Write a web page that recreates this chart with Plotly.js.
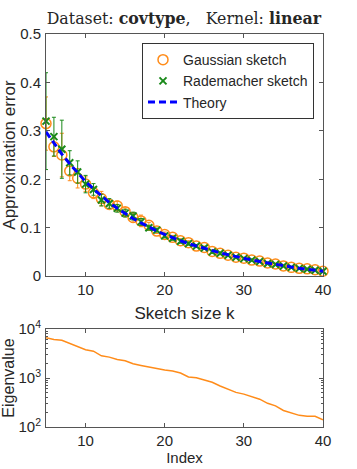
<!DOCTYPE html>
<html>
<head>
<meta charset="utf-8">
<script src="https://cdn.plot.ly/plotly-3.0.1.min.js"></script>
<style>html,body{margin:0;padding:0;background:#fff}#chart{width:357px;height:469px}</style>
</head>
<body>
<div id="chart"></div>
<script>
const sketchSizes = [5,6,7,8,9,10,11,12,13,14,15,16,17,18,19,20,21,22,23,24,25,26,27,28,29,30,31,32,33,34,35,36,37,38,39,40];
const gaussianErr = [0.315,0.267,0.250,0.217,0.202,0.190,0.172,0.160,0.148,0.145,0.133,0.121,0.114,0.105,0.093,0.086,0.080,0.073,0.069,0.062,0.059,0.051,0.047,0.043,0.039,0.037,0.033,0.031,0.027,0.025,0.021,0.018,0.016,0.015,0.013,0.010];
const gaussianStd = [0.055,0.020,0.045,0.020,0.020,0.015,0.012,0.015,0.010,0.010,0.008,0.010,0.012,0.006,0.005,0.005,0.004,0.004,0.004,0.003,0.003,0.003,0.003,0.002,0.002,0.002,0.002,0.002,0.002,0.002,0.002,0.001,0.001,0.001,0.001,0.001];
const rademacherErr = [0.320,0.288,0.262,0.234,0.215,0.190,0.179,0.157,0.150,0.140,0.130,0.124,0.112,0.100,0.095,0.083,0.078,0.072,0.067,0.062,0.058,0.050,0.047,0.043,0.039,0.036,0.033,0.030,0.026,0.024,0.021,0.018,0.016,0.014,0.012,0.010];
const rademacherStd = [0.100,0.040,0.060,0.025,0.023,0.018,0.012,0.012,0.010,0.008,0.008,0.008,0.007,0.005,0.004,0.004,0.004,0.004,0.003,0.003,0.003,0.003,0.002,0.002,0.002,0.002,0.002,0.002,0.002,0.002,0.001,0.001,0.001,0.001,0.001,0.001];
const theoryErr = [0.298,0.275,0.252,0.232,0.213,0.195,0.180,0.165,0.152,0.140,0.129,0.119,0.110,0.101,0.093,0.086,0.079,0.073,0.067,0.062,0.057,0.052,0.048,0.044,0.040,0.036,0.033,0.030,0.027,0.024,0.021,0.019,0.016,0.014,0.012,0.010];
const eigIndex = [5,6,7,8,9,10,11,12,13,14,15,16,17,18,19,20,21,22,23,24,25,26,27,28,29,30,31,32,33,34,35,36,37,38,39,40];
const eigValues = [6650,6150,5900,5100,4300,3780,3550,2850,2680,2400,2250,1960,1810,1670,1580,1460,1390,1270,1050,1015,910,820,690,590,510,470,415,370,305,270,218,196,173,166,166,140];
const xTicks = [10,20,30,40];
const yTicksTop = [0,0.1,0.2,0.3,0.4,0.5];
const yTickLabelsTop = ['0','0.1','0.2','0.3','0.4','0.5'];
const yTicksBottom = [100,1000,10000];
const yTickLabelsBottom = ['10<sup>2</sup>','10<sup>3</sup>','10<sup>4</sup>'];

const orange = '#ff8c1a', green = '#1a8a1a', blue = '#0000ff';
const axisCol = '#555';
const txt = '#262626';
const sans = 'Liberation Sans, Arial, sans-serif';

const traces = [
  {x: sketchSizes, y: gaussianErr, name: 'Gaussian sketch', type: 'scatter', mode: 'markers',
   marker: {symbol: 'circle-open', size: 10, color: orange, line: {width: 1.5, color: orange}},
   error_y: {type: 'data', array: gaussianStd, visible: true, color: orange, thickness: 1, width: 2},
   cliponaxis: false, xaxis: 'x', yaxis: 'y'},
  {x: sketchSizes, y: rademacherErr, name: 'Rademacher sketch', type: 'scatter', mode: 'markers',
   marker: {symbol: 'x-thin-open', size: 7, color: green, line: {width: 2, color: green}},
   error_y: {type: 'data', array: rademacherStd, visible: true, color: green, thickness: 1, width: 2},
   cliponaxis: false, xaxis: 'x', yaxis: 'y'},
  {x: sketchSizes, y: theoryErr, name: 'Theory', type: 'scatter', mode: 'lines',
   line: {color: blue, width: 3, dash: '7px,4px'}, xaxis: 'x', yaxis: 'y'},
  {x: eigIndex, y: eigValues, type: 'scatter', mode: 'lines', showlegend: false,
   line: {color: orange, width: 1.5}, xaxis: 'x2', yaxis: 'y2'}
];

const common = {
  showline: true, linecolor: axisCol, linewidth: 1, mirror: 'ticks',
  ticks: 'inside', ticklen: 4, tickcolor: axisCol, zeroline: false, showgrid: false,
  tickfont: {family: sans, size: 15, color: txt}
};

const layout = {
  width: 357, height: 469,
  margin: {l: 46, r: 34, t: 34, b: 42},
  paper_bgcolor: '#fff', plot_bgcolor: '#fff',
  font: {family: sans, color: txt},
  title: {text: 'Dataset: <b>covtype</b>,   Kernel: <b>linear</b>',
          font: {family: 'DejaVu Serif, serif', size: 15.8, color: txt},
          x: 0.515, xanchor: 'center', y: 0.96, yanchor: 'middle'},
  xaxis: Object.assign({}, common, {domain: [0,1], anchor: 'y', range: [5,40], tickvals: xTicks,
          title: {text: 'Sketch size k', font: {family: sans, size: 17, color: txt}, standoff: 10}}),
  yaxis: Object.assign({}, common, {domain: [0.384,1], anchor: 'x', range: [0,0.5],
          tickvals: yTicksTop, ticktext: yTickLabelsTop, ticklabelstandoff: 1,
          title: {text: 'Approximation error', font: {family: sans, size: 17, color: txt}, standoff: 6}}),
  xaxis2: Object.assign({}, common, {domain: [0,1], anchor: 'y2', range: [5,40], tickvals: xTicks,
          title: {text: 'Index', font: {family: sans, size: 15, color: txt}, standoff: 2}}),
  yaxis2: Object.assign({}, common, {domain: [0,0.249], anchor: 'x2', type: 'log', range: [2,4],
          tickvals: yTicksBottom, ticktext: yTickLabelsBottom, ticklabelstandoff: 1,
          minor: {ticks: 'inside', ticklen: 2, tickcolor: axisCol, dtick: 'D1'},
          title: {text: 'Eigenvalue', font: {family: sans, size: 16, color: txt}, standoff: 8}}),
  legend: {x: 0.9675, xanchor: 'right', y: 0.977, yanchor: 'top',
           bordercolor: '#333', borderwidth: 1, bgcolor: '#fff',
           font: {family: sans, size: 14, color: txt}, tracegroupgap: 0, itemwidth: 30},
  showlegend: true
};

Plotly.newPlot('chart', traces, layout, {staticPlot: true, displayModeBar: false});
</script>
</body>
</html>
